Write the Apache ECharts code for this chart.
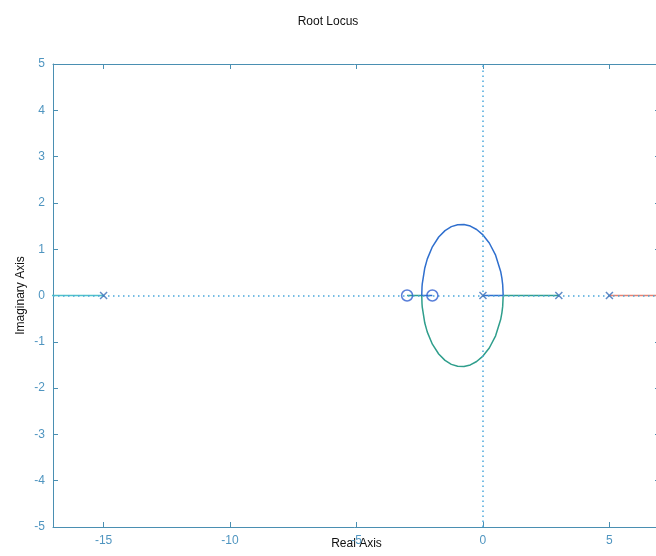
<!DOCTYPE html>
<html>
<head>
<meta charset="utf-8">
<script src="https://cdn.jsdelivr.net/npm/echarts@6/dist/echarts.min.js"></script>
<style>
  html, body { margin: 0; padding: 0; background: #fff; }
  #chart { width: 656px; height: 556px; }
</style>
</head>
<body>
<div id="chart"></div>
<script>
// Open-loop poles and zeros
const poles = [[-15, 0], [0, 0], [3, 0], [5, 0]];
const zeros = [[-3, 0], [-2, 0]];

// Branch leaving the pole at -15 towards -infinity
const branchLeft = [[-15, 0], [-40, 0]];
// Branch leaving the pole at 5 towards +infinity
const branchRight = [[5, 0], [40, 0]];
// Branch from the pole at 0: breakaway at 0.8, upper arc, break-in at -2.42, ends on zero -2
const branchUpper = [
  [0, 0], [0.80, 0], [0.78, 0.235], [0.75, 0.369], [0.70, 0.519], [0.50, 0.871],
  [0.25, 1.134], [0, 1.308], [-0.25, 1.426], [-0.50, 1.499], [-0.75, 1.533],
  [-1.00, 1.529], [-1.25, 1.487], [-1.50, 1.401], [-1.75, 1.264], [-2.00, 1.052],
  [-2.20, 0.791], [-2.30, 0.595], [-2.40, 0.250], [-2.41, 0.179], [-2.42, 0], [-2, 0]
];
// Branch from the pole at 3: breakaway at 0.8, lower arc, break-in at -2.42, ends on zero -3
const branchLower = [
  [3, 0], [0.80, 0], [0.78, -0.235], [0.75, -0.369], [0.70, -0.519], [0.50, -0.871],
  [0.25, -1.134], [0, -1.308], [-0.25, -1.426], [-0.50, -1.499], [-0.75, -1.533],
  [-1.00, -1.529], [-1.25, -1.487], [-1.50, -1.401], [-1.75, -1.264], [-2.00, -1.052],
  [-2.20, -0.791], [-2.30, -0.595], [-2.40, -0.250], [-2.41, -0.179], [-2.42, 0], [-3, 0]
];

const xTicks = [-15, -10, -5, 0, 5];
const yRange = [-5, 5];
const xRange = [-17, 7];

const axisColor = '#4a8fb2';
const labelColor = '#4f95c0';
const fontFamily = 'Liberation Sans, Arial, sans-serif';

const chart = echarts.init(document.getElementById('chart'), null, { renderer: 'canvas' });

function lineSeries(data, color, z) {
  return {
    type: 'line', data: data, showSymbol: false, symbol: 'none',
    lineStyle: { color: color, width: 1.5 }, clip: true, z: z, animation: false
  };
}

const commonTick = { show: true, inside: true, length: 5, lineStyle: { color: axisColor, width: 1 } };

chart.setOption({
  animation: false,
  backgroundColor: '#ffffff',
  title: {
    text: 'Root Locus', left: 'center', top: 11,
    textStyle: { fontSize: 12, fontWeight: 'normal', color: '#111', fontFamily: fontFamily }
  },
  grid: { left: 53, right: -4, top: 64, bottom: 29, containLabel: false, outerBoundsMode: 'none' },
  xAxis: [
    {
      type: 'value', min: xRange[0], max: xRange[1], position: 'bottom',
      name: 'Real Axis', nameLocation: 'middle', nameGap: 11, nameMoveOverlap: false,
      nameTextStyle: { color: '#111', fontSize: 12, fontFamily: fontFamily },
      axisLine: { show: true, onZero: false, lineStyle: { color: axisColor, width: 1 } },
      axisTick: Object.assign({ customValues: xTicks }, commonTick),
      axisLabel: { customValues: xTicks, color: labelColor, fontSize: 12, margin: 8, fontFamily: fontFamily },
      splitLine: { show: false }
    },
    {
      type: 'value', min: xRange[0], max: xRange[1], position: 'top',
      axisLine: { show: true, onZero: false, lineStyle: { color: axisColor, width: 1 } },
      axisTick: Object.assign({ customValues: xTicks }, commonTick),
      axisLabel: { show: false },
      splitLine: { show: false }
    }
  ],
  yAxis: [
    {
      type: 'value', min: yRange[0], max: yRange[1], interval: 1, position: 'left',
      name: 'Imaginary Axis', nameLocation: 'middle', nameGap: 26, nameMoveOverlap: false,
      nameTextStyle: { color: '#111', fontSize: 12, fontFamily: fontFamily },
      axisLine: { show: true, onZero: false, lineStyle: { color: axisColor, width: 1 } },
      axisTick: commonTick,
      axisLabel: { color: labelColor, fontSize: 12, margin: 8, fontFamily: fontFamily },
      splitLine: { show: false }
    },
    {
      type: 'value', min: yRange[0], max: yRange[1], interval: 1, position: 'right',
      axisLine: { show: true, onZero: false, lineStyle: { color: axisColor, width: 1 } },
      axisTick: commonTick,
      axisLabel: { show: false },
      splitLine: { show: false }
    }
  ],
  series: [
    {
      // dotted reference lines through the origin
      type: 'line', data: [], silent: true,
      markLine: {
        symbol: 'none', silent: true, label: { show: false },
        lineStyle: { color: '#4aa8dc', type: [1.5, 3.5], width: 1.5 },
        data: [{ xAxis: 0 }, { yAxis: 0 }]
      },
      z: 1
    },
    lineSeries(branchLeft, '#4fc3c8', 3),
    lineSeries(branchRight, '#ea8270', 3),
    lineSeries(branchLower, '#2f9e8c', 3),
    lineSeries(branchUpper, '#2f6fce', 4),
    {
      type: 'scatter', data: poles, symbol: 'path://M0,0L10,10M10,0L0,10',
      symbolSize: 7,
      itemStyle: { color: 'none', borderColor: '#3a6fb8', borderWidth: 1.5 },
      z: 5
    },
    {
      type: 'scatter', data: zeros, symbol: 'circle', symbolSize: 11,
      itemStyle: { color: 'rgba(0,0,0,0)', borderColor: '#2f5fcf', borderWidth: 1.5 },
      z: 5
    }
  ]
});
</script>
</body>
</html>
